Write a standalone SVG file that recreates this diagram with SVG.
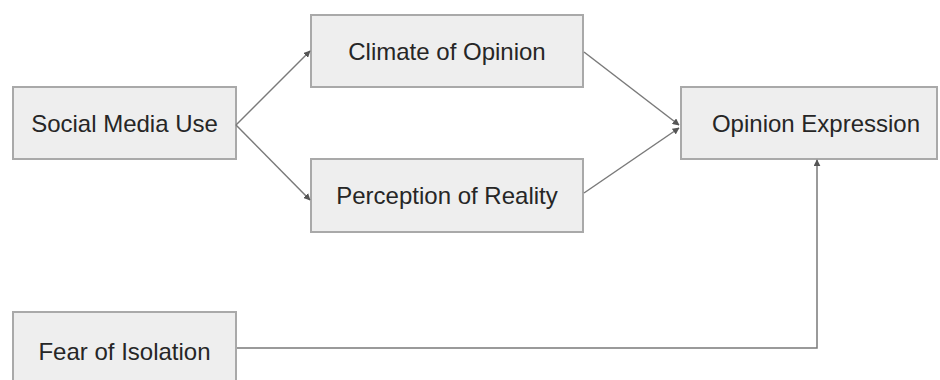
<svg xmlns="http://www.w3.org/2000/svg" width="940" height="380" viewBox="0 0 940 380">
<style>
.box{fill:#eeeeee;stroke:#a9a9a9;stroke-width:2}
.lbl{font-family:"Liberation Sans",Arial,sans-serif;font-size:24px;fill:#262626;text-anchor:middle}
.edge{fill:none;stroke:#7a7a7a;stroke-width:1.5}
</style>
<defs>
<marker id="arr" viewBox="0 0 10 10" refX="9" refY="5" markerWidth="7" markerHeight="7" orient="auto" markerUnits="userSpaceOnUse">
<path d="M0,0 L10,5 L0,10 z" fill="#555"/>
</marker>
</defs>
<rect width="940" height="380" fill="#ffffff"/>
<g id="social">
<rect class="box" x="13" y="87" width="223" height="72"/>
<text class="lbl" x="124.5" y="132">Social Media Use</text>
</g>
<g id="climate">
<rect class="box" x="311" y="15" width="272" height="72"/>
<text class="lbl" x="447" y="60">Climate of Opinion</text>
</g>
<g id="perception">
<rect class="box" x="311" y="159" width="272" height="73"/>
<text class="lbl" x="447" y="204">Perception of Reality</text>
</g>
<g id="expression">
<rect class="box" x="681" y="87" width="256" height="72"/>
<text class="lbl" x="816" y="132">Opinion Expression</text>
</g>
<g id="fear">
<rect class="box" x="13" y="312" width="223" height="80"/>
<text class="lbl" x="124.5" y="360">Fear of Isolation</text>
</g>
<g id="connectors">
<path class="edge" d="M236,125 L310,51" marker-end="url(#arr)"/>
<path class="edge" d="M236,125 L310,200" marker-end="url(#arr)"/>
<path class="edge" d="M584,52 L679,125" marker-end="url(#arr)"/>
<path class="edge" d="M584,193 L679,128" marker-end="url(#arr)"/>
<path class="edge" d="M237,348 L817,348 L817,160" stroke="#a0a0a0" stroke-width="2" marker-end="url(#arr)"/>
</g>
</svg>
